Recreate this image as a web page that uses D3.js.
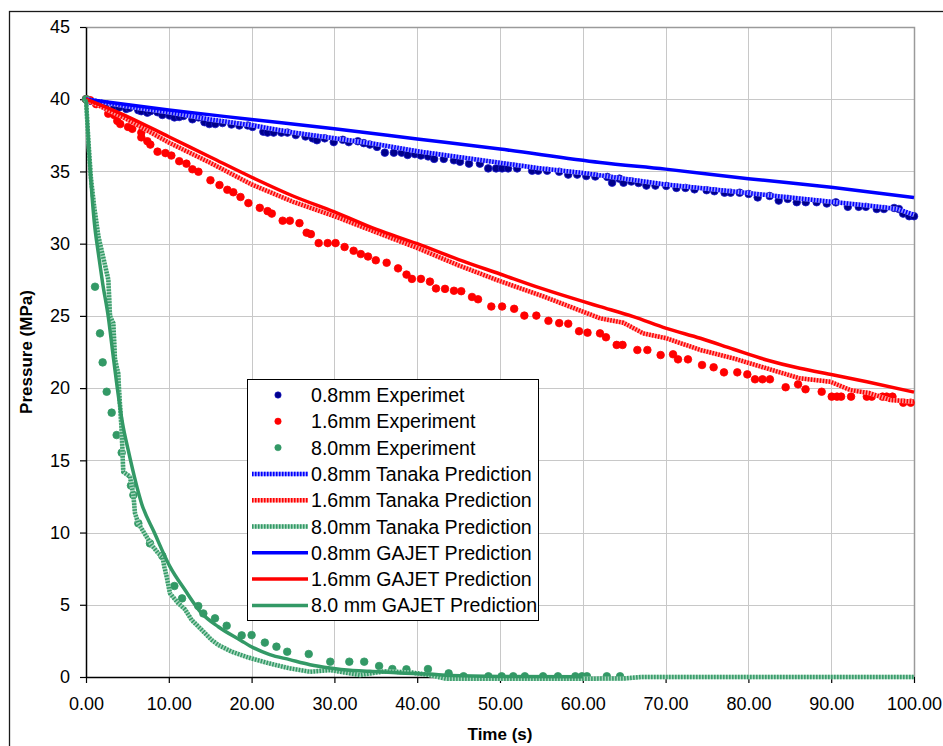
<!DOCTYPE html>
<html>
<head>
<meta charset="utf-8">
<script src="https://cdn.jsdelivr.net/npm/d3@7"></script>
<style>
  html, body { margin: 0; padding: 0; background: #fff; }
  svg { display: block; font-family: "Liberation Sans", Arial, sans-serif; }
</style>
</head>
<body>
<svg id="chart" width="943" height="746"></svg>
<script>
// Axis ticks
const timeTicks = [0, 10, 20, 30, 40, 50, 60, 70, 80, 90, 100];
const pressureTicks = [0, 5, 10, 15, 20, 25, 30, 35, 40, 45];

// Measured pressure, [time (s), pressure (MPa)]
const exp08 = [
  [0,40],[0.51,39.89],[1.23,39.73],[2.32,39.5],[3.41,39.43],[3.99,39.43],[4.87,39.33],[5.23,39.4],
  [6.32,39.24],[6.68,39.17],[7.41,39.07],[7.77,39.17],[8.64,39.1],[9.22,38.91],[10.09,38.87],
  [10.68,38.74],[11.26,38.77],[11.77,38.84],[12.85,38.61],[13.58,38.74],[14.31,38.41],[14.89,38.28],
  [15.61,38.28],[16.49,38.35],[17.57,38.25],[18.52,38.18],[19.54,38.18],[20.12,38.08],[21.42,37.75],
  [21.93,37.69],[22.66,37.69],[23.6,37.69],[24.33,37.69],[25.34,37.52],[26.51,37.42],[27.38,37.29],
  [27.89,37.16],[28.83,37.29],[29.92,37.03],[31.01,37.19],[31.74,37.03],[32.83,37.09],[33.55,36.96],
  [34.28,36.86],[35.15,36.7],[36.09,36.3],[37.18,36.3],[38.13,36.3],[38.85,36.14],[39.72,36.2],
  [40.45,36.1],[41.32,36.04],[42.05,35.87],[43.21,35.87],[44.44,35.77],[45.17,35.67],[46.26,35.54],
  [47.57,35.54],[48.58,35.21],[49.53,35.21],[50.25,35.21],[50.98,35.21],[52.07,35.21],[53.88,35.05],
  [54.61,35.05],[55.7,35.05],[57.15,34.98],[58.24,34.78],[59.33,34.78],[60.42,34.68],[61.51,34.65],
  [62.96,34.62],[63.54,34.22],[64.42,34.5],[64.92,34.22],[65.87,34.3],[66.74,34.2],[67.68,34.02],
  [68.77,34.02],[70.08,34.0],[71.31,33.86],[72.4,33.86],[73.49,33.76],[74.95,33.7],[75.89,33.63],
  [77.12,33.53],[77.85,33.53],[78.94,33.53],[80.03,33.44],[81.12,33.2],[82.57,33.3],[83.66,32.98],
  [84.75,33.1],[85.84,32.87],[86.93,32.87],[88.24,32.87],[89.47,32.78],[90.56,32.86],[92.01,32.55],
  [93.32,32.55],[94.19,32.55],[95.5,32.4],[96.37,32.4],[97.6,32.47],[98.18,32.4],[98.69,32.08],
  [99.42,31.9],[100,31.9]
];
const exp16 = [
  [0,40],[0.51,39.93],[1.23,39.66],[2.69,39.0],[3.41,38.9],[3.78,38.5],[4.14,38.28],[5.08,38.08],
  [5.59,37.95],[6.68,37.69],[6.68,37.36],[7.41,37.09],[7.77,36.86],[8.64,36.37],[9.59,36.27],
  [10.31,36.1],[11.26,35.71],[12.13,35.54],[12.85,35.15],[13.58,34.98],[15.03,34.39],[16.12,34.06],
  [17.07,33.73],[17.79,33.56],[18.66,33.23],[19.61,32.81],[20.99,32.48],[21.93,32.25],[22.44,32.08],
  [23.75,31.59],[24.62,31.59],[25.78,31.42],[26.65,30.76],[27.16,30.66],[28.1,30.04],[29.19,30.04],
  [30.14,30.04],[31.23,29.77],[32.32,29.51],[33.19,29.28],[34.06,29.11],[35.0,28.85],[36.31,28.68],
  [37.69,28.29],[38.71,27.86],[39.36,27.56],[40.45,27.56],[41.54,27.37],[42.27,26.9],[43.36,26.87],
  [44.44,26.74],[45.32,26.71],[46.62,26.31],[47.35,26.15],[48.95,25.65],[50.25,25.65],[51.71,25.49],
  [52.94,25.02],[54.39,25.02],[55.85,24.66],[57.15,24.5],[58.24,24.46],[59.55,23.94],[60.57,23.84],
  [62.08,23.79],[62.8,23.52],[64.09,22.99],[64.8,22.99],[66.59,22.64],[67.8,22.64],[69.4,22.29],
  [70.9,22.34],[71.5,21.99],[72.7,21.99],[74.4,21.6],[75.8,21.44],[77.05,21.09],[78.66,21.09],
  [79.87,20.95],[80.8,20.61],[81.7,20.61],[82.6,20.61],[84.5,20.06],[86.0,20.26],[86.9,19.92],
  [88.85,19.75],[90.06,19.41],[90.7,19.41],[91.2,19.41],[92.4,19.41],[94.3,19.41],[94.9,19.41],
  [96.2,19.41],[96.7,19.41],[97.4,19.41],[98.7,18.99],[99.6,18.99]
];
const exp80 = [
  [0,40],[1.09,27.02],[1.69,23.79],[2.01,21.78],[2.5,19.75],[3.1,18.3],[3.7,16.75],[4.31,15.53],
  [5.43,13.25],[5.72,12.6],[6.32,10.64],[7.73,9.25],[9.22,8.38],[10.67,6.3],[11.6,5.44],[13.56,4.91],
  [14.17,4.4],[15.58,4.06],[16.99,3.55],[18.8,2.88],[20.0,2.9],[21.6,2.38],[23.0,2.1],[24.3,1.75],
  [26.9,1.59],[29.5,1.06],[31.8,1.06],[33.6,1.06],[35.4,0.76],[37.0,0.55],[38.7,0.53],[41.3,0.55],
  [43.8,0.25],[45.6,0.05],[48.6,0.05],[50.2,0.05],[51.6,0.05],[53.0,0.05],[55.2,0.05],[57.0,0.05],
  [59.1,0.05],[59.9,0.05],[60.5,0.05],[62.9,0.05],[64.5,0.05]
];

// Tanaka model predictions
const tanaka08 = [
  [0,40],[5,39.5],[10,39.1],[15,38.6],[20,38.2],[25,37.7],[30,37.3],[35,36.9],[40,36.4],[45,36.0],
  [50,35.6],[55,35.2],[60,34.9],[65,34.5],[70,34.1],[75,33.8],[80,33.5],[85,33.2],[90,32.9],
  [95,32.6],[98,32.4],[100,32.0]
];
const tanaka16 = [
  [0,40],[5,38.6],[10,37.0],[15,35.6],[20,34.1],[25,32.9],[30,31.9],[35,30.8],[40,29.7],[45,28.5],
  [50,27.4],[55,26.4],[60,25.3],[62.1,24.83],[64.9,24.53],[67.3,23.79],[70.1,23.45],[74.2,22.64],
  [78.2,22.06],[82.2,21.37],[86.2,20.68],[89.9,20.44],[92.3,19.87],[94.7,19.64],[97.1,19.18],[100,19.06]
];
const tanaka80 = [
  [0,40],[0.3,37],[0.6,34.5],[1.0,32.5],[1.5,30.5],[1.9,29.5],[2.7,27.5],[2.9,25],[3.3,24.5],[3.5,22],
  [3.9,21],[4.0,19.8],[4.3,17.1],[4.5,14.2],[5.31,13.87],[5.72,12.6],[5.92,11.33],[6.32,10.64],
  [7.93,9.14],[8.73,8.56],[9.22,8.33],[9.46,7.64],[9.74,6.95],[10.14,5.79],[11.15,5.1],[11.96,4.68],
  [12.76,3.95],[13.97,3.26],[15.18,2.56],[15.98,2.22],[17.6,1.75],[19.6,1.35],[22.0,0.96],[24.6,0.6],
  [27.05,0.36],[29.5,0.48],[31.9,0.25],[33.1,0.14],[36.0,0.39],[39.2,0.32],[41.5,0.14],[43.5,-0.12],
  [50,-0.12],[60,-0.12],[65,-0.1],[67,0],[80,0],[100,0]
];

// GAJET model predictions
const gajet08 = [
  [0,40],[10,39.25],[20,38.6],[30,37.95],[40,37.25],[50,36.55],[62.1,35.62],[70,35.16],[80,34.5],
  [90,33.9],[100,33.2]
];
const gajet16 = [
  [0,40],[5,38.8],[10,37.4],[15,36.0],[20,34.6],[25,33.3],[30,32.2],[35,31.0],[40,30.0],[45,28.9],
  [50,27.9],[55,26.9],[60,26.0],[62.1,25.64],[66.1,24.95],[70.1,24.14],[74.2,23.45],[78.2,22.69],
  [82.2,21.95],[86.2,21.37],[90.3,20.91],[94.3,20.44],[100,19.72]
];
const gajet80 = [
  [0,40],[0.4,36],[1.0,31.5],[1.5,29.3],[2.0,27.3],[2.7,24.9],[3.2,22.6],[3.78,20.0],[4.4,17.6],
  [5.1,15.7],[6.72,12.0],[8.25,10.0],[10.14,7.64],[11.96,6.02],[13.97,4.41],[15.98,3.48],[18.8,2.5],
  [19.8,2.15],[22.2,1.55],[24.6,1.2],[27.05,0.85],[29.5,0.62],[31.9,0.46],[34.3,0.39],[37.9,0.27],
  [41.5,0.2],[44,0.1],[50,0.04],[60,0.02]
];

const BLUE = "#0000ff", RED = "#ff0000", GREEN = "#339966";

const series = [
  { name: "0.8mm Experimet", kind: "dots", data: exp08, color: "#00008b", edge: "#1a1acc" },
  { name: "1.6mm Experiment", kind: "dots", data: exp16, color: RED, edge: RED },
  { name: "8.0mm Experiment", kind: "dots", data: exp80, color: GREEN, edge: GREEN },
  { name: "0.8mm Tanaka Prediction", kind: "tex", data: tanaka08, color: BLUE, light: "#9a9aff" },
  { name: "1.6mm Tanaka Prediction", kind: "tex", data: tanaka16, color: RED, light: "#ff9a9a" },
  { name: "8.0mm Tanaka Prediction", kind: "tex", data: tanaka80, color: GREEN, light: "#a6d6bd" },
  { name: "0.8mm GAJET Prediction", kind: "line", data: gajet08, color: BLUE },
  { name: "1.6mm GAJET Prediction", kind: "line", data: gajet16, color: RED },
  { name: "8.0 mm GAJET Prediction", kind: "line", data: gajet80, color: GREEN }
];

const svg = d3.select("#chart");
const plot = { left: 86, right: 914, top: 27, bottom: 677 };

const x = d3.scaleLinear().domain([0, 100]).range([plot.left, plot.right]);
const y = d3.scaleLinear().domain([0, 45]).range([plot.bottom, plot.top]);

// Outer chart frame
svg.append("rect")
  .attr("x", 9.5).attr("y", 11.5).attr("width", 1000).attr("height", 1000)
  .attr("fill", "none").attr("stroke", "#1a1a1a").attr("stroke-width", 1.3);

// Gridlines
const grid = svg.append("g");
grid.selectAll("line.v").data(timeTicks.filter(d => d > 0 && d < 100)).join("line")
  .attr("x1", d => Math.round(x(d)) + 0.5).attr("x2", d => Math.round(x(d)) + 0.5)
  .attr("y1", plot.top).attr("y2", plot.bottom)
  .attr("stroke", "#c8c8c8").attr("stroke-width", 1);
grid.selectAll("line.h").data(pressureTicks.filter(d => d > 0 && d < 45)).join("line")
  .attr("y1", d => Math.round(y(d)) + 0.5).attr("y2", d => Math.round(y(d)) + 0.5)
  .attr("x1", plot.left).attr("x2", plot.right)
  .attr("stroke", "#c8c8c8").attr("stroke-width", 1);
// Plot-area border (top and right)
svg.append("path")
  .attr("d", `M${plot.left},${plot.top + 0.5}H${plot.right + 0.5}V${plot.bottom}`)
  .attr("fill", "none").attr("stroke", "#9a9a9a").attr("stroke-width", 1.5);

// Axes
const xAxis = d3.axisBottom(x).tickValues(timeTicks).tickFormat(d3.format(".2f"))
  .tickSizeInner(6).tickSizeOuter(0).tickPadding(14);
const yAxis = d3.axisLeft(y).tickValues(pressureTicks).tickFormat(d3.format("d"))
  .tickSizeInner(6).tickSizeOuter(0).tickPadding(10);

const gx = svg.append("g").attr("transform", `translate(0,${plot.bottom})`).call(xAxis);
const gy = svg.append("g").attr("transform", `translate(${plot.left},0)`).call(yAxis);
[gx, gy].forEach(g => {
  g.select(".domain").attr("stroke", "#000").attr("stroke-width", 1.5);
  g.selectAll(".tick line").attr("stroke", "#000").attr("stroke-width", 1.2);
  g.selectAll(".tick text").attr("fill", "#000").style("font-size", "18px")
    .style("font-family", "'Liberation Sans', Arial, sans-serif");
});

// Axis titles
svg.append("text").attr("x", (plot.left + plot.right) / 2).attr("y", 740)
  .attr("text-anchor", "middle").style("font-size", "17px").style("font-weight", "bold")
  .text("Time (s)");
svg.append("text").attr("transform", `translate(32,${(plot.top + plot.bottom) / 2}) rotate(-90)`)
  .attr("text-anchor", "middle").style("font-size", "17px").style("font-weight", "bold")
  .text("Pressure (MPa)");

// Series
const line = d3.line().x(d => x(d[0])).y(d => y(d[1]));
const smooth = d3.line().x(d => x(d[0])).y(d => y(d[1])).curve(d3.curveMonotoneX);
const marks = svg.append("g");

series.filter(s => s.kind === "dots").forEach(s => {
  marks.append("g").selectAll("circle").data(s.data).join("circle")
    .attr("cx", d => x(d[0])).attr("cy", d => y(d[1])).attr("r", 3.8)
    .attr("fill", s.color).attr("stroke", s.edge).attr("stroke-width", 0.8);
});
series.filter(s => s.kind === "tex").forEach(s => {
  marks.append("path").attr("d", line(s.data)).attr("fill", "none")
    .attr("stroke", s.light).attr("stroke-width", 4.5).attr("stroke-linejoin", "round");
  marks.append("path").attr("d", line(s.data)).attr("fill", "none")
    .attr("stroke", s.color).attr("stroke-width", 4.5).attr("stroke-dasharray", "1.5 1.5")
    .attr("stroke-linejoin", "round");
});
series.filter(s => s.kind === "line").forEach(s => {
  marks.append("path").attr("d", smooth(s.data)).attr("fill", "none")
    .attr("stroke", s.color).attr("stroke-width", 3.5).attr("stroke-linejoin", "round");
});

// Legend
const lg = { x: 247, y: 379, w: 291, h: 241, rowH: 26.3 };
const legend = svg.append("g");
legend.append("rect").attr("x", lg.x + 0.5).attr("y", lg.y + 0.5).attr("width", lg.w).attr("height", lg.h)
  .attr("fill", "#fff").attr("stroke", "#000").attr("stroke-width", 1);
series.forEach((s, i) => {
  const cy = lg.y + 16 + i * lg.rowH;
  const row = legend.append("g");
  if (s.kind === "dots") {
    row.append("circle").attr("cx", 278).attr("cy", cy).attr("r", 3.2)
      .attr("fill", s.color).attr("stroke", s.edge).attr("stroke-width", 0.6);
  } else if (s.kind === "tex") {
    row.append("line").attr("x1", 252).attr("x2", 308).attr("y1", cy).attr("y2", cy)
      .attr("stroke", s.light).attr("stroke-width", 4.5);
    row.append("line").attr("x1", 252).attr("x2", 308).attr("y1", cy).attr("y2", cy)
      .attr("stroke", s.color).attr("stroke-width", 4.5).attr("stroke-dasharray", "1.5 1.5");
  } else {
    row.append("line").attr("x1", 252).attr("x2", 308).attr("y1", cy).attr("y2", cy)
      .attr("stroke", s.color).attr("stroke-width", 3.5);
  }
  row.append("text").attr("x", 311).attr("y", cy).attr("dy", "0.36em")
    .style("font-size", "19.6px").attr("fill", "#000").text(s.name);
});
</script>
</body>
</html>
